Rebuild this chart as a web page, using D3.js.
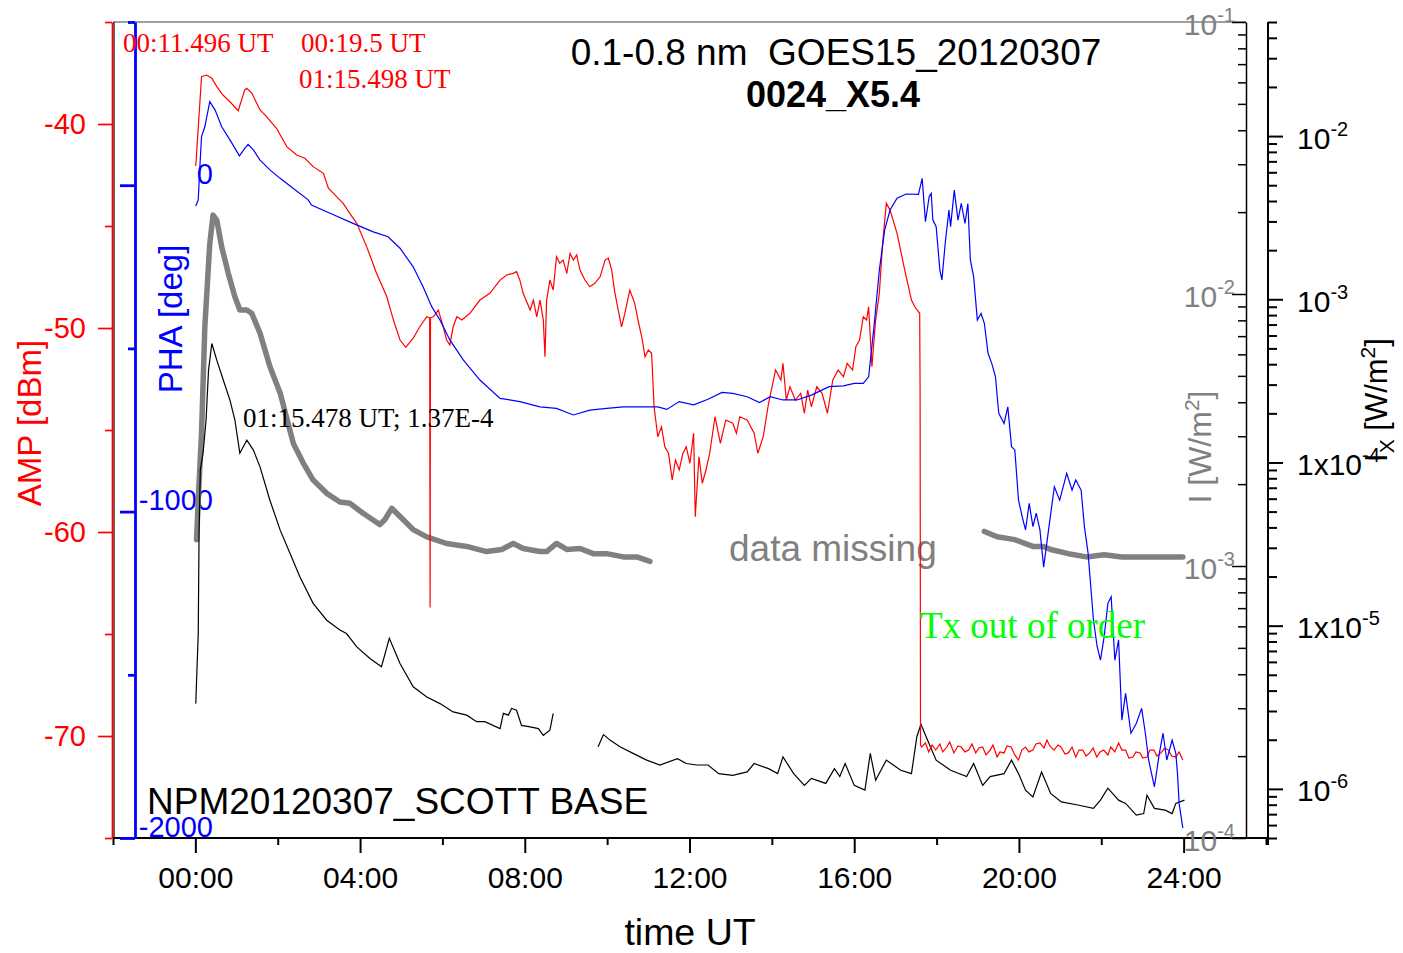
<!DOCTYPE html>
<html>
<head>
<meta charset="utf-8">
<script src="https://cdn.jsdelivr.net/npm/d3@7"></script>
<style>
  body { margin: 0; background: #fff; }
  text { font-family: "Liberation Sans", Arial, sans-serif; }
  text.serif { font-family: "Liberation Serif", "Times New Roman", serif; }
</style>
</head>
<body>
<svg id="chart" width="1403" height="953"></svg>
<script>
// --- NPM amplitude (dBm), Scott Base receiver ---
const ampHours = [0.01,0.15,0.27,0.40,0.52,0.67,0.84,1.04,1.20,1.25,1.37,1.57,1.73,1.97,2.22,2.46,2.66,2.86,3.11,3.23,3.43,3.59,3.75,3.92,4.16,4.40,4.65,4.81,4.97,5.11,5.29,5.45,5.62,5.69,5.70,5.71,5.78,5.90,6.02,6.10,6.18,6.26,6.35,6.47,6.67,6.91,7.15,7.40,7.56,7.72,7.80,7.88,7.96,8.13,8.21,8.29,8.37,8.45,8.49,8.53,8.61,8.69,8.77,8.85,8.93,9.02,9.10,9.18,9.26,9.34,9.46,9.58,9.70,9.83,9.95,10.03,10.11,10.19,10.27,10.35,10.43,10.55,10.67,10.75,10.84,10.92,11.00,11.08,11.14,11.23,11.32,11.40,11.49,11.58,11.66,11.75,11.84,11.92,12.01,12.10,12.14,12.23,12.31,12.40,12.49,12.62,12.75,12.88,13.05,13.14,13.22,13.40,13.57,13.66,13.79,13.92,14.09,14.22,14.27,14.35,14.44,14.57,14.70,14.79,14.87,14.96,15.09,15.22,15.35,15.48,15.61,15.74,15.83,15.96,16.04,16.13,16.22,16.30,16.35,16.43,16.52,16.61,16.69,16.78,16.87,17.04,17.21,17.39,17.47,17.59,17.60,17.61,17.64,17.73,17.81,17.89,17.98,18.08,18.15,18.25,18.32,18.42,18.52,18.60,18.69,18.78,18.86,18.95,19.03,19.12,19.20,19.30,19.37,19.47,19.54,19.64,19.71,19.81,19.90,19.99,20.07,20.16,20.24,20.34,20.41,20.51,20.61,20.68,20.75,20.85,20.95,21.02,21.12,21.20,21.29,21.38,21.46,21.55,21.63,21.72,21.80,21.89,21.97,22.06,22.16,22.23,22.33,22.42,22.50,22.59,22.67,22.77,22.84,22.94,23.01,23.11,23.18,23.28,23.35,23.45,23.54,23.63,23.71,23.81,23.89,23.98];
const ampDbm = [-42.06,-37.68,-37.60,-37.76,-38.17,-38.58,-38.91,-39.35,-38.33,-38.25,-38.48,-39.31,-39.64,-40.21,-41.11,-41.52,-41.68,-42.09,-42.42,-43.15,-43.56,-43.89,-44.38,-44.87,-46.01,-47.32,-48.47,-49.61,-50.59,-50.95,-50.50,-49.94,-49.45,-49.5,-63.7,-49.5,-49.45,-49.12,-49.94,-50.59,-50.83,-49.94,-49.45,-49.61,-49.28,-48.63,-48.30,-47.65,-47.40,-47.32,-47.24,-47.65,-48.30,-49.12,-48.63,-49.45,-48.63,-49.61,-51.41,-48.63,-47.65,-48.14,-46.50,-46.83,-46.67,-47.32,-46.34,-46.67,-46.42,-47.16,-47.65,-47.98,-47.81,-47.49,-46.67,-46.58,-47.16,-48.30,-49.12,-49.94,-49.28,-48.14,-48.79,-49.61,-50.43,-51.41,-51.08,-51.24,-53.86,-55.33,-54.84,-55.82,-56.14,-57.45,-56.47,-56.96,-56.14,-55.82,-56.63,-55.16,-59.25,-56.31,-57.61,-56.96,-56.14,-54.35,-55.65,-54.51,-54.67,-55.16,-54.35,-54.51,-55.16,-56.14,-55.33,-53.69,-52.06,-52.55,-51.73,-53.53,-52.88,-53.53,-53.20,-54.18,-53.04,-53.86,-52.88,-53.20,-54.18,-52.55,-52.06,-52.39,-51.73,-52.06,-50.92,-50.59,-49.45,-49.61,-48.96,-51.90,-49.61,-48.30,-45.85,-43.89,-44.22,-45.36,-47.00,-48.63,-48.96,-49.28,-53.19,-70.44,-70.54,-70.34,-70.78,-70.44,-70.69,-70.39,-70.78,-70.54,-70.29,-70.83,-70.49,-70.54,-70.78,-70.69,-70.39,-70.83,-70.59,-70.54,-70.93,-70.69,-70.44,-71.03,-70.78,-70.83,-70.49,-70.54,-70.93,-71.18,-70.69,-70.54,-70.78,-70.69,-70.39,-70.34,-70.59,-70.20,-70.49,-70.69,-70.44,-70.54,-70.88,-70.83,-70.54,-71.03,-70.69,-70.69,-70.98,-70.83,-70.59,-71.03,-70.78,-70.69,-70.93,-70.54,-70.78,-70.34,-70.69,-70.69,-71.08,-71.03,-70.78,-70.83,-71.08,-71.03,-70.69,-70.69,-70.98,-70.83,-70.59,-70.69,-70.98,-71.03,-70.78,-71.18];

// --- NPM phase (deg) ---
const phaHours = [0.01,0.07,0.11,0.15,0.23,0.35,0.48,0.64,0.84,1.07,1.20,1.28,1.41,1.57,1.81,2.06,2.38,2.74,2.82,3.27,3.83,4.32,4.68,4.97,5.29,5.53,5.74,5.94,6.18,6.51,6.91,7.40,7.88,8.37,8.77,9.18,9.58,9.99,10.39,10.80,11.23,11.45,11.75,12.10,12.45,12.79,13.05,13.40,13.70,13.96,14.27,14.61,14.96,15.39,15.74,16.00,16.22,16.35,16.48,16.61,16.74,16.87,17.04,17.26,17.56,17.65,17.73,17.82,17.87,17.91,17.99,18.08,18.13,18.21,18.30,18.34,18.43,18.52,18.60,18.69,18.76,18.82,18.90,18.99,19.08,19.16,19.25,19.34,19.43,19.51,19.64,19.73,19.82,19.90,19.99,20.08,20.16,20.25,20.34,20.42,20.51,20.60,20.73,20.86,20.99,21.16,21.29,21.38,21.51,21.59,21.68,21.81,21.90,21.98,22.07,22.16,22.24,22.33,22.42,22.50,22.59,22.72,22.85,22.98,23.07,23.15,23.29,23.41,23.50,23.59,23.72,23.81,23.85,23.89,23.98];
const phaDeg = [-64,-45,57,149,179,256,230,179,139,90,113,125,108,77,47,21,-10,-45,-61,-86,-117,-143,-158,-193,-250,-311,-372,-413,-474,-536,-597,-653,-663,-679,-684,-704,-689,-684,-679,-679,-679,-687,-663,-673,-656,-635,-638,-648,-666,-648,-658,-658,-643,-617,-615,-607,-607,-587,-434,-260,-137,-76,-40,-27,-28,21,-112,-35,-25,-107,-127,-260,-290,-178,-76,-127,-15,-107,-56,-117,-56,-229,-280,-413,-393,-423,-515,-546,-587,-699,-730,-679,-801,-811,-965,-1016,-1056,-975,-1046,-1005,-1056,-1170,-1046,-924,-965,-883,-934,-903,-934,-1046,-1128,-1332,-1414,-1455,-1383,-1281,-1261,-1455,-1393,-1639,-1557,-1679,-1649,-1603,-1679,-1761,-1843,-1741,-1679,-1761,-1700,-1741,-1802,-1894,-1970];

// --- GOES15 0.1-0.8 nm, I [W/m2] (grey axis) ---
const goesIHours = [0.03,0.07,0.15,0.23,0.35,0.43,0.52,0.64,0.80,0.96,1.08,1.25,1.37,1.57,1.81,2.06,2.38,2.62,2.86,3.19,3.51,3.75,4.08,4.48,4.60,4.77,4.97,5.29,5.62,6.10,6.59,7.07,7.44,7.72,7.96,8.37,8.53,8.77,9.02,9.34,9.66,9.99,10.39,10.72,11.04,15.00,19.16,19.47,19.90,20.34,20.60,20.77,21.20,21.64,22.07,22.50,22.94,23.37,23.98];
const goesI = [1.25e-3,1.75e-3,3.08e-3,7.58e-3,1.53e-2,1.95e-2,1.87e-2,1.49e-2,1.19e-2,9.77e-3,8.73e-3,8.73e-3,8.49e-3,7.18e-3,5.41e-3,4.32e-3,2.82e-3,2.39e-3,2.07e-3,1.85e-3,1.72e-3,1.70e-3,1.56e-3,1.42e-3,1.48e-3,1.63e-3,1.52e-3,1.36e-3,1.28e-3,1.21e-3,1.18e-3,1.13e-3,1.15e-3,1.21e-3,1.16e-3,1.13e-3,1.13e-3,1.21e-3,1.15e-3,1.16e-3,1.11e-3,1.11e-3,1.08e-3,1.08e-3,1.04e-3,null,1.34e-3,1.28e-3,1.25e-3,1.18e-3,1.18e-3,1.15e-3,1.11e-3,1.08e-3,1.10e-3,1.08e-3,1.08e-3,1.08e-3,1.08e-3];

// --- GOES15 Ix [W/m2] (black axis) ---
const goesIxHours = [0.01,0.07,0.09,0.12,0.19,0.26,0.32,0.40,0.52,0.68,0.84,0.96,1.08,1.25,1.41,1.57,1.81,2.06,2.30,2.54,2.86,3.19,3.51,3.67,3.92,4.24,4.52,4.71,4.97,5.29,5.62,5.94,6.26,6.59,6.83,7.03,7.40,7.48,7.60,7.68,7.80,7.92,8.13,8.33,8.45,8.61,8.69,9.20,9.78,9.91,10.07,10.31,10.63,10.96,11.28,11.71,11.92,12.18,12.45,12.71,13.05,13.40,13.57,13.92,14.14,14.27,14.53,14.79,14.96,15.31,15.52,15.65,15.78,16.00,16.26,16.39,16.52,16.78,17.13,17.39,17.52,17.62,17.78,17.99,18.34,18.73,18.90,19.12,19.30,19.64,19.82,19.99,20.16,20.34,20.55,20.77,21.03,21.46,21.81,21.98,22.16,22.42,22.59,22.85,23.03,23.11,23.29,23.55,23.72,23.81,24.02];
const goesIx = [3.33e-6,8.95e-6,3.67e-5,8.97e-5,1.16e-4,1.82e-4,3.68e-4,5.36e-4,4.24e-4,3.19e-4,2.41e-4,1.82e-4,1.14e-4,1.37e-4,1.19e-4,9.40e-5,5.87e-5,3.85e-5,2.77e-5,1.99e-5,1.37e-5,1.08e-5,9.40e-6,8.95e-6,7.41e-6,6.30e-6,5.60e-6,8.36e-6,5.86e-6,4.22e-6,3.66e-6,3.33e-6,2.96e-6,2.83e-6,2.58e-6,2.58e-6,2.34e-6,2.90e-6,2.83e-6,3.11e-6,3.03e-6,2.45e-6,2.40e-6,2.34e-6,2.13e-6,2.29e-6,2.90e-6,null,1.81e-6,2.15e-6,1.99e-6,1.81e-6,1.65e-6,1.50e-6,1.40e-6,1.53e-6,1.43e-6,1.40e-6,1.40e-6,1.24e-6,1.21e-6,1.27e-6,1.43e-6,1.33e-6,1.24e-6,1.57e-6,1.24e-6,1.05e-6,1.16e-6,1.08e-6,1.33e-6,1.19e-6,1.43e-6,1.05e-6,9.82e-7,1.65e-6,1.13e-6,1.50e-6,1.30e-6,1.24e-6,2.08e-6,2.49e-6,1.99e-6,1.50e-6,1.30e-6,1.19e-6,1.43e-6,1.05e-6,1.19e-6,1.24e-6,1.50e-6,1.24e-6,9.82e-7,8.93e-7,1.27e-6,9.37e-7,8.32e-7,7.94e-7,7.59e-7,8.53e-7,1.01e-6,8.53e-7,8.15e-7,6.90e-7,7.06e-7,9.14e-7,7.59e-7,7.41e-7,7.06e-7,8.15e-7,8.53e-7];

// --- tick values and labels ---
const timeTicks = [0, 4, 8, 12, 16, 20, 24];
const timeMinorTicks = [-2, 2, 6, 10, 14, 18, 22, 26];
const ampTicks = [-70, -60, -50, -40];
const ampMinorTicks = [-75, -65, -55, -45, -35];
const phaTicks = [-2000, -1000, 0];
const phaMinorTicks = [-1500, -500, 500];
const iTicks = [1e-4, 1e-3, 1e-2, 1e-1];
const iTickLabels = [["10", "-4"], ["10", "-3"], ["10", "-2"], ["10", "-1"]];
const ixTicks = [1e-6, 1e-5, 1e-4, 1e-3, 1e-2];
const ixTickLabels = [["10", "-6"], ["1x10", "-5"], ["1x10", "-4"], ["10", "-3"], ["10", "-2"]];

const svg = d3.select("#chart");
svg.append("rect").attr("width", 1403).attr("height", 953).attr("fill", "#fff");

const x = d3.scaleLinear().domain([-2, 26]).range([113, 1266]);
const yAmp = d3.scaleLinear().domain([-75, -35]).range([838, 22]);
const yPha = d3.scaleLinear().domain([-2000, 500]).range([838, 22]);
const yI = d3.scaleLog().domain([1e-4, 1e-1]).range([838, 22]);
const yIx = d3.scaleLog().domain([5e-7, 5e-2]).range([838, 22]);

const isDecade = v => Math.abs(Math.log10(v) - Math.round(Math.log10(v))) < 1e-6;
const logMinor = s => s.ticks().filter(v => !isDecade(v));

function styleAxis(g, color, width, fontSize) {
  g.attr("font-family", null).attr("font-size", fontSize);
  g.select(".domain").attr("stroke", color).attr("stroke-width", width);
  g.selectAll(".tick line").attr("stroke", color).attr("stroke-width", width);
  g.selectAll(".tick text").attr("fill", color);
}

function powerLabels(g, values, labels, dy) {
  g.selectAll(".tick text").each(function (d) {
    const i = values.findIndex(v => Math.abs(v - d) < d * 1e-6);
    const t = d3.select(this).text(null).attr("dy", dy);
    t.append("tspan").text(labels[i][0]);
    t.append("tspan").attr("dy", -13).style("font-size", "20px").text(labels[i][1]);
  });
}

// frame
svg.append("line").attr("x1", 113).attr("x2", 1246).attr("y1", 22).attr("y2", 22)
  .attr("stroke", "#808080").attr("stroke-width", 1.5);
svg.append("line").attr("x1", 114).attr("x2", 114).attr("y1", 22).attr("y2", 838)
  .attr("stroke", "#000").attr("stroke-width", 1.2);

// bottom time axis
const fmtTime = h => (h < 10 ? "0" : "") + h + ":00";
const gxMinor = svg.append("g").attr("transform", "translate(0,838)")
  .call(d3.axisBottom(x).tickValues(timeMinorTicks).tickSize(7).tickSizeOuter(0).tickFormat(""));
styleAxis(gxMinor, "#000", 2, 30);
gxMinor.select(".domain").attr("d", "M113,0H1268");
const gx = svg.append("g").attr("transform", "translate(0,838)")
  .call(d3.axisBottom(x).tickValues(timeTicks).tickSize(15).tickSizeOuter(0).tickPadding(14).tickFormat(fmtTime));
styleAxis(gx, "#000", 2, 30);
gx.select(".domain").remove();

// left red AMP axis
const gaMinor = svg.append("g").attr("transform", "translate(112,0)")
  .call(d3.axisLeft(yAmp).tickValues(ampMinorTicks).tickSize(7).tickSizeOuter(0).tickFormat(""));
styleAxis(gaMinor, "red", 1.7, 29);
const ga = svg.append("g").attr("transform", "translate(112,0)")
  .call(d3.axisLeft(yAmp).tickValues(ampTicks).tickSize(14).tickSizeOuter(0).tickPadding(12).tickFormat(String));
styleAxis(ga, "red", 1.7, 29);
ga.select(".domain").remove();

// blue PHA axis
const gpMinor = svg.append("g").attr("transform", "translate(135,0)")
  .call(d3.axisLeft(yPha).tickValues(phaMinorTicks).tickSize(7).tickSizeOuter(0).tickFormat(""));
styleAxis(gpMinor, "blue", 2.8, 29);
const gp = svg.append("g").attr("transform", "translate(135,0)")
  .call(d3.axisLeft(yPha).tickValues(phaTicks).tickSize(15).tickSizeOuter(0).tickFormat(String));
styleAxis(gp, "blue", 2.8, 29);
gp.select(".domain").remove();
gp.selectAll(".tick text").attr("x", 78).attr("dy", 0).attr("y", -2).attr("text-anchor", "end");

// grey I axis (log)
const giMinor = svg.append("g").attr("transform", "translate(1246,0)")
  .call(d3.axisLeft(yI).tickValues(logMinor(yI)).tickSize(8).tickSizeOuter(0).tickFormat(""));
styleAxis(giMinor, "#000", 1.5, 30);
const gi = svg.append("g").attr("transform", "translate(1246,0)")
  .call(d3.axisLeft(yI).tickValues(iTicks).tickSize(14).tickSizeOuter(0).tickPadding(-3).tickFormat(String));
styleAxis(gi, "#000", 1.5, 30);
gi.select(".domain").remove();
gi.selectAll(".tick text").attr("fill", "#808080");
powerLabels(gi, iTicks, iTickLabels, "0.42em");

// black Ix axis (log)
const gxxMinor = svg.append("g").attr("transform", "translate(1268,0)")
  .call(d3.axisRight(yIx).tickValues(logMinor(yIx)).tickSize(9).tickSizeOuter(0).tickFormat(""));
styleAxis(gxxMinor, "#000", 2, 30);
gxxMinor.select(".domain").attr("d", "M0,22V845");
const gxx = svg.append("g").attr("transform", "translate(1268,0)")
  .call(d3.axisRight(yIx).tickValues(ixTicks).tickSize(15).tickSizeOuter(0).tickPadding(14).tickFormat(String));
styleAxis(gxx, "#000", 2, 30);
gxx.select(".domain").remove();
powerLabels(gxx, ixTicks, ixTickLabels, "0.4em");

// axis titles
svg.append("text").attr("transform", "translate(41,423) rotate(-90)").attr("text-anchor", "middle")
  .attr("fill", "red").style("font-size", "33px").text("AMP [dBm]");
svg.append("text").attr("transform", "translate(182,319) rotate(-90)").attr("text-anchor", "middle")
  .attr("fill", "blue").style("font-size", "33px").text("PHA [deg]");
const tI = svg.append("text").attr("transform", "translate(1211,447) rotate(-90)").attr("text-anchor", "middle")
  .attr("fill", "#808080").style("font-size", "32px");
tI.append("tspan").text("I [W/m");
tI.append("tspan").attr("dy", -12).style("font-size", "21px").text("2");
tI.append("tspan").attr("dy", 12).text("]");
const tIx = svg.append("text").attr("transform", "translate(1387,400) rotate(-90)").attr("text-anchor", "middle")
  .attr("fill", "#000").style("font-size", "31px");
tIx.append("tspan").text("I");
tIx.append("tspan").attr("dy", 7).style("font-size", "21px").text("X");
tIx.append("tspan").attr("dy", -7).text(" [W/m");
tIx.append("tspan").attr("dy", -12).style("font-size", "21px").text("2");
tIx.append("tspan").attr("dy", 12).text("]");
svg.append("text").attr("x", 690).attr("y", 945).attr("text-anchor", "middle")
  .style("font-size", "37.5px").text("time UT");

// data missing note (under the lines)
svg.append("text").attr("x", 729).attr("y", 561).attr("fill", "#808080")
  .style("font-size", "37px").text("data missing");

// series
const lineFor = ys => d3.line().defined(d => d[1] != null).x(d => x(d[0])).y(d => ys(d[1]));
svg.append("path").datum(d3.zip(goesIHours, goesI)).attr("d", lineFor(yI))
  .attr("fill", "none").attr("stroke", "#808080").attr("stroke-width", 5.5)
  .attr("stroke-linejoin", "round").attr("stroke-linecap", "round");
svg.append("path").datum(d3.zip(goesIxHours, goesIx)).attr("d", lineFor(yIx))
  .attr("fill", "none").attr("stroke", "#000").attr("stroke-width", 1.2);
svg.append("path").datum(d3.zip(ampHours, ampDbm)).attr("d", lineFor(yAmp))
  .attr("fill", "none").attr("stroke", "red").attr("stroke-width", 1.2);
svg.append("path").datum(d3.zip(phaHours, phaDeg)).attr("d", lineFor(yPha))
  .attr("fill", "none").attr("stroke", "blue").attr("stroke-width", 1.2);

// titles and annotations
svg.append("text").attr("x", 836).attr("y", 65).attr("text-anchor", "middle")
  .style("font-size", "37px").style("white-space", "pre").text("0.1-0.8 nm  GOES15_20120307");
svg.append("text").attr("x", 833).attr("y", 107).attr("text-anchor", "middle")
  .style("font-size", "36px").style("font-weight", "bold").text("0024_X5.4");
svg.append("text").attr("x", 147).attr("y", 814).style("font-size", "37px").text("NPM20120307_SCOTT BASE");

const redNotes = [["00:11.496 UT", 123, 52], ["00:19.5 UT", 301, 52], ["01:15.498 UT", 299, 88]];
redNotes.forEach(([t, px, py]) => {
  svg.append("text").attr("class", "serif").attr("x", px).attr("y", py).attr("fill", "red")
    .style("font-size", "27px").text(t);
});
svg.append("text").attr("class", "serif").attr("x", 243).attr("y", 427).attr("fill", "#000")
  .style("font-size", "27px").text("01:15.478 UT; 1.37E-4");
svg.append("text").attr("class", "serif").attr("x", 920).attr("y", 638).attr("fill", "#00ff00")
  .style("font-size", "37px").text("Tx out of order");
</script>
</body>
</html>
